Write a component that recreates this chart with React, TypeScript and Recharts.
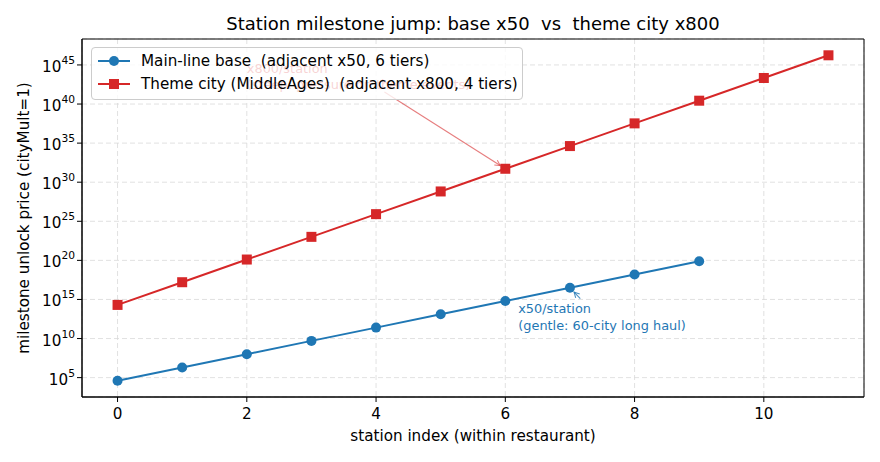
import React from 'react';
import {
  LineChart,
  Line,
  XAxis,
  YAxis,
  CartesianGrid,
  ReferenceDot,
  ReferenceLine,
  ReferenceArea,
} from 'recharts';

// Station index within a restaurant
const stationIndex = [0, 1, 2, 3, 4, 5, 6, 7, 8, 9, 10, 11];

// Main-line base milestone prices (x50 per station)
const basePrice = [4e4, 2e6, 1e8, 5e9, 2.5e11, 1.25e13, 6.25e14, 3.1e16, 1.56e18, 7.8e19];

// Theme city (MiddleAges) milestone prices (x800 per station)
const themePrice = [
  2e14, 1.6e17, 1.28e20, 1.02e23, 8.2e25, 6.55e28, 5.24e31, 4.19e34, 3.36e37, 2.68e40, 2.15e43,
  1.72e46,
];

const xTicks = [0, 2, 4, 6, 8, 10];
const yTicks = [1e5, 1e10, 1e15, 1e20, 1e25, 1e30, 1e35, 1e40, 1e45];

const seriesNames = [
  'Main-line base  (adjacent x50, 6 tiers)',
  'Theme city (MiddleAges)  (adjacent x800, 4 tiers)',
];

const BLUE = '#1f77b4';
const RED = '#d62728';
const FONT = '"DejaVu Sans", "Liberation Sans", sans-serif';
const FS = 15.2;

const W = 880;
const H = 462;
const X_DOMAIN: [number, number] = [-0.55, 11.55];
const Y_DOMAIN: [number, number] = [Math.pow(10, 2.52), Math.pow(10, 48.32)];

const rows = stationIndex.map((i) => ({
  idx: i,
  base: i < basePrice.length ? basePrice[i] : undefined,
  theme: themePrice[i],
}));

const PowTick = (props: any) => {
  const { x, y, payload } = props;
  const exp = Math.round(Math.log10(payload.value));
  return (
    <text x={x} y={y + 2} textAnchor="end" dominantBaseline="central" fontSize={FS} fill="#000" fontFamily={FONT}>
      10
      <tspan dy={-7} fontSize={10.7}>
        {exp}
      </tspan>
    </text>
  );
};

const SquareDot = (p: any) => {
  if (p.cx == null || p.cy == null) return <g key={p.index} />;
  return <rect key={p.index} x={p.cx - 5} y={p.cy - 5} width={10} height={10} fill={RED} />;
};

// Annotation arrow: line from text towards the marker, shortened near the target, open head
const makeArrow = (color: string, opacity: number, shrink: number) => (p: any) => {
  const { x1, y1, x2, y2 } = p;
  if ([x1, y1, x2, y2].some((v) => v == null || Number.isNaN(v))) return <g />;
  const dx = x2 - x1;
  const dy = y2 - y1;
  const len = Math.sqrt(dx * dx + dy * dy) || 1;
  const ux = dx / len;
  const uy = dy / len;
  const hx = x2 - ux * shrink;
  const hy = y2 - uy * shrink;
  const hl = 6;
  const a = (28 * Math.PI) / 180;
  const rot = (ang: number) => [
    hx - hl * (ux * Math.cos(ang) - uy * Math.sin(ang)),
    hy - hl * (uy * Math.cos(ang) + ux * Math.sin(ang)),
  ];
  const [lx, ly] = rot(a);
  const [rx, ry] = rot(-a);
  return (
    <g stroke={color} strokeOpacity={opacity} fill="none" strokeWidth={1.1}>
      <line x1={x1} y1={y1} x2={hx} y2={hy} />
      <polyline points={`${lx},${ly} ${hx},${hy} ${rx},${ry}`} />
    </g>
  );
};

const noteText = (lines: string[], color: string, opacity: number) => (p: any) => {
  const { cx, cy } = p;
  if (cx == null || cy == null) return <g />;
  return (
    <text x={cx} y={cy} fill={color} fillOpacity={opacity} fontSize={12.9} fontFamily={FONT}>
      {lines.map((l, i) => (
        <tspan key={i} x={cx} dy={i === 0 ? '0.35em' : '1.3em'}>
          {l}
        </tspan>
      ))}
    </text>
  );
};

const LegendIcon = ({ color, square }: { color: string; square: boolean }) => (
  <svg width={34} height={14} style={{ display: 'block' }}>
    <line x1={1} y1={7} x2={33} y2={7} stroke={color} strokeWidth={2} />
    {square ? <rect x={12} y={2} width={10} height={10} fill={color} /> : <circle cx={17} cy={7} r={5} fill={color} />}
  </svg>
);

export default function App() {
  return (
    <div style={{ position: 'absolute', left: 0, top: 0, width: W, height: H, background: '#fff', fontFamily: FONT }}>
      <LineChart width={W} height={H} data={rows} margin={{ top: 39, right: 16, bottom: 0, left: 0 }}>
        <CartesianGrid stroke="#d9d9d9" strokeWidth={0.8} strokeDasharray="5 3" />
        <XAxis
          dataKey="idx"
          type="number"
          domain={X_DOMAIN}
          ticks={xTicks}
          allowDataOverflow
          height={65}
          stroke="#000"
          tickSize={5}
          tickMargin={6}
          tick={{ fill: '#000', fontSize: FS, fontFamily: FONT }}
          label={(lp: any) => {
            const vb = lp?.viewBox ?? { x: 82, y: 397, width: 782, height: 65 };
            return (
              <text x={vb.x + vb.width / 2} y={vb.y + 39} textAnchor="middle" dominantBaseline="central" fontSize={FS} fill="#000" fontFamily={FONT}>
                station index (within restaurant)
              </text>
            );
          }}
        />
        <YAxis
          type="number"
          scale="log"
          domain={Y_DOMAIN}
          ticks={yTicks}
          allowDataOverflow
          width={82}
          stroke="#000"
          tickSize={5}
          tickMargin={2}
          tick={<PowTick />}
          label={(lp: any) => {
            const vb = lp?.viewBox ?? { x: 0, y: 39, width: 82, height: 358 };
            const cx = vb.x + 24;
            const cy = vb.y + vb.height / 2;
            return (
              <text x={cx} y={cy} transform={`rotate(-90, ${cx}, ${cy})`} textAnchor="middle" dominantBaseline="central" fontSize={FS} fill="#000" fontFamily={FONT}>
                milestone unlock price (cityMult=1)
              </text>
            );
          }}
        />
        <ReferenceArea x1={X_DOMAIN[0]} x2={X_DOMAIN[1]} y1={Y_DOMAIN[0]} y2={Y_DOMAIN[1]} fill="none" stroke="#000" strokeWidth={1} ifOverflow="visible" />
        <Line
          dataKey="base"
          stroke={BLUE}
          strokeWidth={2}
          dot={{ r: 5, fill: BLUE, stroke: BLUE, strokeWidth: 0 }}
          isAnimationActive={false}
        />
        <Line dataKey="theme" stroke={RED} strokeWidth={2} dot={<SquareDot />} isAnimationActive={false} />
        <ReferenceLine
          segment={[
            { x: 7.16, y: Math.pow(10, 15.1) },
            { x: 7, y: basePrice[7] },
          ]}
          shape={makeArrow(BLUE, 0.8, 6)}
        />
        <ReferenceLine
          segment={[
            { x: 4.13, y: Math.pow(10, 41.55) },
            { x: 6, y: themePrice[6] },
          ]}
          shape={makeArrow(RED, 0.6, 6)}
        />
        <ReferenceDot x={6.2} y={Math.pow(10, 13.82)} r={0} shape={noteText(['x50/station', '(gentle: 60-city long haul)'], BLUE, 1)} />
        <ReferenceDot x={2} y={Math.pow(10, 44.6)} r={0} shape={noteText(['x800/station', '(steep: pressure on theme events)'], RED, 1)} />
      </LineChart>

      <div
        style={{
          position: 'absolute',
          left: 0,
          top: 13,
          width: W,
          paddingLeft: 82,
          paddingRight: 16,
          boxSizing: 'border-box',
          textAlign: 'center',
          fontSize: 18,
          color: '#000',
          lineHeight: '22px',
          whiteSpace: 'pre',
        }}
      >
        Station milestone jump: base x50  vs  theme city x800
      </div>

      <div
        style={{
          position: 'absolute',
          left: 91,
          top: 47,
          width: 432,
          height: 53,
          boxSizing: 'border-box',
          border: '1px solid #cccccc',
          borderRadius: 4,
          background: 'rgba(255,255,255,0.8)',
          fontSize: FS,
          color: '#000',
        }}
      >
        {seriesNames.map((name, i) => (
          <div
            key={name}
            style={{ position: 'absolute', left: 5, top: i === 0 ? 4 : 27, height: 18, display: 'flex', alignItems: 'center', whiteSpace: 'pre' }}
          >
            <LegendIcon color={i === 0 ? BLUE : RED} square={i === 1} />
            <span style={{ marginLeft: 10 }}>{name}</span>
          </div>
        ))}
      </div>
    </div>
  );
}
